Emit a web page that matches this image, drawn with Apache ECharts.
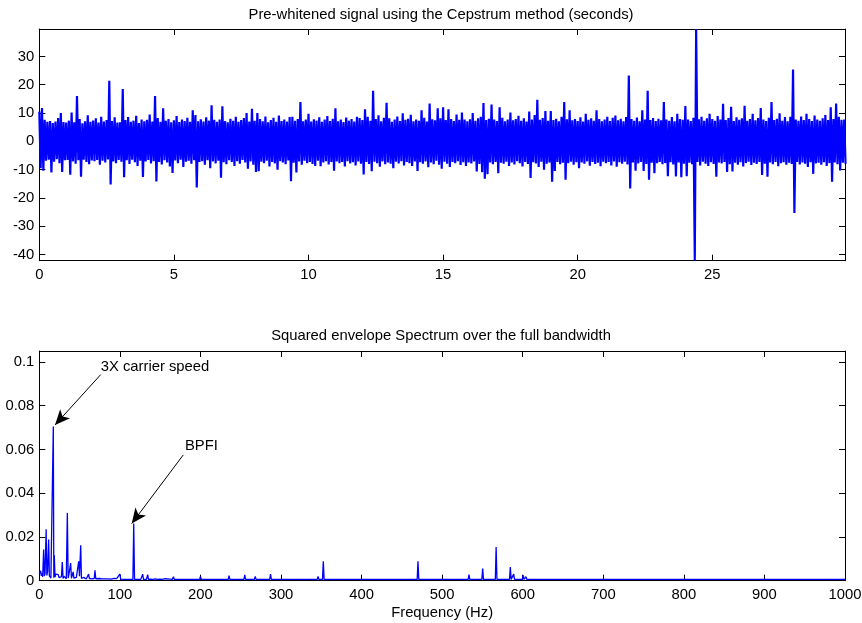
<!DOCTYPE html>
<html><head><meta charset="utf-8">
<script src="https://cdn.jsdelivr.net/npm/echarts@6/dist/echarts.min.js"></script>
<style>html,body{margin:0;padding:0;background:#fff}#c{width:862px;height:623px}</style>
</head><body><div id="c"></div>
<script>
// ---------- top panel: pre-whitened signal (read per 0.1 s step: upper and lower excursion) ----------
const timeStep = 0.1;
const sigHigh = [
10.5,11.8,7.6,6.9,7.2,6.5,7.0,8.2,10.0,6.8,
6.6,7.3,10.2,6.7,16.0,7.9,6.4,7.1,9.2,6.9,
7.3,8.1,6.6,8.7,7.0,7.5,21.4,7.2,8.5,6.6,
6.7,18.5,7.5,8.6,6.9,7.3,9.0,6.5,7.7,7.1,
7.6,9.5,7.0,16.0,8.2,6.9,11.7,7.3,7.9,6.7,
7.4,8.9,6.8,7.7,7.2,8.3,6.9,11.0,9.3,7.1,
7.8,7.0,8.5,7.3,12.7,7.6,6.9,7.7,12.4,7.2,
6.7,8.0,7.3,8.7,6.9,7.5,8.2,10.0,7.0,11.5,
7.3,10.0,7.9,7.1,8.8,6.7,7.5,8.3,6.9,9.1,
7.2,7.7,7.0,8.6,8.7,7.3,7.9,13.9,7.1,7.7,
9.7,7.0,7.8,7.3,8.5,6.9,7.7,8.9,7.2,8.0,
11.7,7.1,7.7,6.8,8.4,7.3,7.9,7.0,8.7,8.2,
7.5,11.3,8.7,7.3,17.9,7.9,9.2,7.1,8.3,13.6,
8.1,6.9,7.7,8.8,7.2,9.9,7.6,8.0,9.4,7.1,
7.7,7.3,11.0,8.3,7.0,13.4,7.8,7.4,11.7,8.1,
12.0,7.5,11.3,7.9,7.2,9.5,7.6,10.2,7.7,7.1,
7.8,10.0,7.3,8.1,8.7,13.5,7.5,8.0,13.0,7.7,
7.2,12.0,8.3,7.1,7.7,10.2,7.4,7.9,9.0,7.3,
8.1,7.0,10.5,7.7,9.3,14.7,7.6,8.2,10.7,7.3,
10.7,7.5,8.0,7.1,8.7,13.9,7.8,11.0,7.4,7.9,
7.2,8.5,7.0,9.7,7.6,8.1,7.3,11.0,7.9,7.1,
7.7,8.7,7.2,8.3,9.1,7.4,8.0,7.1,8.6,23.3,
7.9,7.3,8.4,7.1,11.0,7.7,17.9,7.5,8.2,7.2,
8.0,7.4,13.9,7.7,7.3,8.6,7.1,9.7,7.9,7.6,
12.5,7.7,7.2,8.3,39.7,7.8,8.7,7.3,8.1,9.7,
7.9,7.3,8.9,7.7,13.3,7.5,8.2,12.2,7.2,8.5,
7.6,8.1,12.6,7.3,7.9,9.7,7.4,8.2,11.8,7.7,
7.2,8.3,13.9,7.5,8.0,9.9,7.3,8.6,7.1,8.7,
25.4,7.7,7.3,8.8,7.5,9.7,7.9,7.2,9.1,7.7,
7.3,8.1,9.3,7.5,12.0,7.9,13.4,8.7,7.6,7.7
];
const sigLow = [
-9.5,-10.4,-6.9,-6.5,-11.0,-7.2,-6.3,-7.7,-10.8,-6.7,
-6.6,-11.8,-7.1,-7.9,-6.7,-12.5,-6.5,-7.3,-8.1,-6.8,
-7.0,-6.6,-8.3,-6.9,-7.5,-6.4,-15.3,-7.1,-7.7,-6.6,
-7.2,-12.7,-6.7,-8.0,-6.5,-7.4,-8.7,-6.9,-12.6,-7.1,
-6.6,-7.8,-7.0,-14.2,-7.3,-8.2,-6.7,-7.5,-8.9,-11.2,
-6.8,-7.7,-6.5,-9.1,-7.2,-6.9,-7.9,-6.7,-16.3,-7.3,
-7.0,-8.3,-6.7,-9.5,-7.1,-7.8,-6.9,-12.9,-7.4,-8.1,
-6.7,-7.3,-8.7,-7.0,-7.9,-6.6,-7.5,-9.7,-7.1,-8.3,
-10.8,-10.6,-7.2,-7.7,-6.9,-8.9,-7.3,-7.8,-10.0,-7.0,
-7.5,-8.1,-6.8,-14.1,-7.6,-11.0,-7.1,-8.3,-6.9,-7.7,
-7.3,-8.0,-8.7,-6.9,-8.8,-7.5,-7.0,-8.2,-7.3,-10.4,
-7.1,-7.7,-7.3,-8.9,-7.0,-7.8,-7.4,-8.5,-7.1,-7.9,
-11.7,-7.3,-8.0,-10.6,-7.2,-7.7,-9.0,-7.1,-8.1,-7.5,
-7.9,-9.5,-7.2,-7.8,-7.0,-8.5,-7.3,-7.7,-8.7,-7.1,
-10.5,-7.4,-7.9,-7.1,-9.2,-7.5,-8.1,-6.9,-8.3,-9.7,
-7.2,-7.9,-9.1,-7.3,-7.7,-7.0,-8.4,-7.4,-8.7,-7.5,
-7.8,-7.1,-10.7,-8.0,-10.9,-13.2,-11.6,-7.5,-8.1,-7.3,
-11.3,-7.6,-7.9,-7.2,-8.7,-7.5,-8.2,-7.0,-7.7,-8.9,
-7.3,-8.0,-13.0,-7.4,-7.8,-9.1,-7.2,-10.0,-7.9,-7.5,
-14.3,-10.5,-7.3,-8.1,-7.6,-13.6,-7.7,-7.2,-8.3,-7.4,
-9.5,-7.5,-7.9,-7.1,-8.6,-7.3,-8.0,-7.6,-8.8,-7.2,
-7.7,-7.3,-8.5,-7.1,-9.0,-7.4,-7.9,-7.2,-8.2,-16.7,
-7.5,-10.4,-7.8,-7.3,-10.5,-8.0,-13.6,-7.6,-11.3,-7.7,
-7.3,-8.1,-7.7,-12.3,-7.4,-8.2,-12.4,-7.5,-12.7,-7.9,
-12.3,-7.6,-8.1,-42.2,-7.3,-8.5,-7.2,-7.9,-8.7,-7.4,
-8.0,-12.5,-7.5,-7.8,-7.3,-10.8,-8.1,-10.7,-7.6,-8.3,
-7.4,-8.9,-7.7,-7.2,-8.4,-7.6,-8.0,-7.3,-11.9,-7.9,
-12.5,-7.5,-8.1,-7.3,-8.8,-7.7,-7.4,-8.3,-7.6,-8.0,
-25.3,-7.3,-8.2,-7.5,-7.9,-9.1,-7.4,-11.5,-7.8,-7.6,
-8.3,-7.4,-8.7,-7.7,-14.3,-7.5,-8.1,-10.3,-7.6,-7.9
];
const timeTicks = [0,5,10,15,20,25];
const sigTicks = [-40,-30,-20,-10,0,10,20,30];
const timeRange = [0, 29.93];
const sigRange = [-42.2, 39.7];

// ---------- bottom panel: squared envelope spectrum ----------
const specFreq = [
0,1,1.7,2.5,3.3,4.2,5.4,6.3,7.1,8.5,
9.4,10.3,11.6,12.5,13.3,14.4,15.3,16.4,17.4,18.0,
18.6,19.5,20.5,21.5,22.5,23.5,24.5,25.5,26.5,27.5,
28.5,29.5,30.5,31.5,32.5,33.5,34.8,35.8,36.6,37.6,
38.9,39.9,40.8,42.0,43.0,44.0,45.0,46.0,47.0,48.0,
48.9,49.9,50.6,51.4,52.3,53.2,54.2,55.2,56.3,57.3,
58.3,59.3,60.2,61.2,62.2,63.2,64.2,65.2,66.2,67.2,
68.2,69.1,70.1,71.1,72.5,74,75.5,77,79,81,
82,83,85,87,89,91,93,94,96,98,
100,101,103,105,107,109,111,112,114,116.2,
117.2,118.2,120,122,124,126,127.5,128.3,129.3,131,
133,134.5,135.5,138,141,144,145.5,146.5,150,153,
156,157,162,165,166.5,167.5,
172,195,196,197,199,200,201,211,212,213,228.6,229.6,230.6,234.5,235.5,236.5,254,255,256,267,268,269,273,274,275,286,287,288,304,305,306,339,340,341,345,346,347,351.5,352.5,353.5,357,358,359,420,421,422,431,432,433,469,470,471,480,481,482,532.3,533.3,534.3,549.3,550.3,551.3,559,560,561,566,567,568,571,572,573,583.6,584.6,585.6,587.8,588.8,589.8,599.5,600.5,601.5,603,604,605,705,706,707,1000];
const specAmp = [
0.0031,0.0026,0.0045,0.0022,0.0034,0.0018,0.0142,0.0021,0.0032,0.0235,
0.0024,0.0041,0.0188,0.0022,0.0031,0.0012,0.0021,0.0009,0.0705,0.0014,
0.0116,0.0017,0.0030,0.0034,0.0036,0.0028,0.0014,0.0021,0.0012,0.0018,
0.0085,0.0010,0.0021,0.0013,0.0016,0.0009,0.0310,0.0012,0.0025,0.0016,
0.0081,0.0011,0.0015,0.0040,0.0012,0.0021,0.0009,0.0015,0.0010,0.0018,
0.0089,0.0021,0.0030,0.0162,0.0011,0.0020,0.0008,0.0015,0.0009,0.0014,
0.0008,0.0016,0.0011,0.0030,0.0010,0.0012,0.0018,0.0008,0.0011,0.0007,
0.0010,0.0047,0.0009,0.0012,0.0007,0.0010,0.0006,0.0009,0.0006,0.0008,
0.0015,0.0006,0.0008,0.0006,0.0007,0.0006,0.0011,0.0006,0.0009,0.0006,
0.0030,0.0007,0.0010,0.0006,0.0009,0.0006,0.0012,0.0006,0.0008,0.0006,
0.0261,0.0006,0.0008,0.0006,0.0009,0.0006,0.0006,0.0030,0.0006,0.0008,
0.0006,0.0028,0.0006,0.0007,0.0006,0.0008,0.0016,0.0006,0.0007,0.0006,
0.0009,0.0006,0.0007,0.0006,0.0018,0.0006,
0.0006,0.0006,0.0015,0.0006,0.0006,0.0020,0.0006,0.0006,0.0015,0.0006,0.0006,0.0015,0.0006,0.0006,0.0023,0.0006,0.0006,0.0027,0.0006,0.0006,0.0020,0.0006,0.0006,0.0012,0.0006,0.0006,0.0030,0.0006,0.0006,0.0012,0.0006,0.0006,0.0015,0.0006,0.0006,0.0020,0.0006,0.0006,0.0089,0.0006,0.0006,0.0010,0.0006,0.0006,0.0012,0.0006,0.0006,0.0012,0.0006,0.0006,0.0089,0.0006,0.0006,0.0013,0.0006,0.0006,0.0028,0.0006,0.0006,0.0055,0.0006,0.0006,0.0009,0.0006,0.0006,0.0154,0.0006,0.0006,0.0010,0.0006,0.0006,0.0062,0.0006,0.0006,0.0030,0.0006,0.0006,0.0025,0.0006,0.0006,0.0018,0.0006,0.0006,0.0012,0.0006,0.0006];
const freqTicks = [0,100,200,300,400,500,600,700,800,900,1000];
const specTicks = [0,0.02,0.04,0.06,0.08,0.1];
const freqRange = [0, 1000];
const specRange = [0, 0.105];

// annotations (data coordinates)
const annotText = ['3X carrier speed', 'BPFI'];
const annotTextAt = [[76.2, 0.0977], [180.8, 0.0616]];
const annotTail = [[76.2, 0.0942], [178.7, 0.0575]];
const annotHead = [[19.5, 0.0712], [114.7, 0.0261]];

const titles = ['Pre-whitened signal using the Cepstrum method (seconds)', 'Squared envelope Spectrum over the full bandwidth'];
const xName = 'Frequency (Hz)';

// ---------- build ----------
const FONT = '"Liberation Sans", Arial, Helvetica, sans-serif';
const FS = 14.8;
const sigData = [];
for (let i = 0; i < sigHigh.length; i++) {
  const t = i * timeStep;
  sigData.push([t, sigHigh[i]]);
  sigData.push([t + timeStep / 2, sigLow[i]]);
}
const specData = specFreq.map((f, i) => [f, specAmp[i]]);

function axisBase(range, ticks, pos, showLabel, gridIndex, extra) {
  return Object.assign({
    type: 'value', gridIndex, position: pos, min: range[0], max: range[1],
    axisLine: { show: true, onZero: false, lineStyle: { color: '#000', width: 1 } },
    axisTick: { show: true, inside: true, length: 6, customValues: ticks, lineStyle: { color: '#000', width: 1 } },
    axisLabel: { show: showLabel, customValues: ticks, formatter: v => String(v), color: '#000', fontSize: FS, fontFamily: FONT, margin: (pos === 'bottom') ? 7 : 5 },
    splitLine: { show: false }
  }, extra || {});
}

const grids = [
  { left: 39.3, top: 29, width: 805.7, height: 231.7, containLabel: false, outerBoundsMode: 'none' },
  { left: 39.3, top: 351, width: 805.7, height: 229.7, containLabel: false, outerBoundsMode: 'none' }
];

const option = {
  backgroundColor: '#fff',
  animation: false,
  title: [
    { text: titles[0], left: 441, top: 7.5, textAlign: 'center', padding: 0, textStyle: { fontSize: FS, fontWeight: 'normal', color: '#000', fontFamily: FONT } },
    { text: titles[1], left: 441, top: 328, textAlign: 'center', padding: 0, textStyle: { fontSize: FS, fontWeight: 'normal', color: '#000', fontFamily: FONT } }
  ],
  grid: grids,
  xAxis: [
    axisBase(timeRange, timeTicks, 'bottom', true, 0),
    axisBase(timeRange, timeTicks, 'top', false, 0),
    axisBase(freqRange, freqTicks, 'bottom', true, 1, { name: xName, nameLocation: 'middle', nameGap: 25, nameTextStyle: { color: '#000', fontSize: FS, fontFamily: FONT } }),
    axisBase(freqRange, freqTicks, 'top', false, 1)
  ],
  yAxis: [
    axisBase(sigRange, sigTicks, 'left', true, 0),
    axisBase(sigRange, sigTicks, 'right', false, 0),
    axisBase(specRange, specTicks, 'left', true, 1),
    axisBase(specRange, specTicks, 'right', false, 1)
  ],
  series: [
    {
      type: 'line', xAxisIndex: 0, yAxisIndex: 0, data: sigData,
      showSymbol: false, symbol: 'none', clip: true,
      lineStyle: { color: '#0000ff', width: 2.2, join: 'bevel' },
      silent: true
    },
    {
      type: 'line', xAxisIndex: 2, yAxisIndex: 2, data: specData,
      showSymbol: false, symbol: 'none', clip: true,
      lineStyle: { color: '#0000ff', width: 1.3 }, silent: true,
      markLine: {
        silent: true, animation: false,
        symbol: ['none', 'arrow'], symbolSize: [10, 15],
        label: { show: false },
        lineStyle: { color: '#000', width: 1, type: 'solid' },
        emphasis: { disabled: true },
        data: annotTail.map((p, i) => [{ coord: p }, { coord: annotHead[i] }])
      },
      markPoint: {
        silent: true, animation: false, symbol: 'circle', symbolSize: 0,
        label: { show: true, position: 'right', distance: 0, formatter: '{b}', color: '#000', fontSize: FS, fontFamily: FONT },
        itemStyle: { color: 'rgba(0,0,0,0)' },
        data: annotText.map((t, i) => ({ name: t, coord: annotTextAt[i] }))
      }
    }
  ]
};
const chart = echarts.init(document.getElementById('c'), null, { renderer: 'canvas' });
chart.setOption(option);
</script></body></html>
